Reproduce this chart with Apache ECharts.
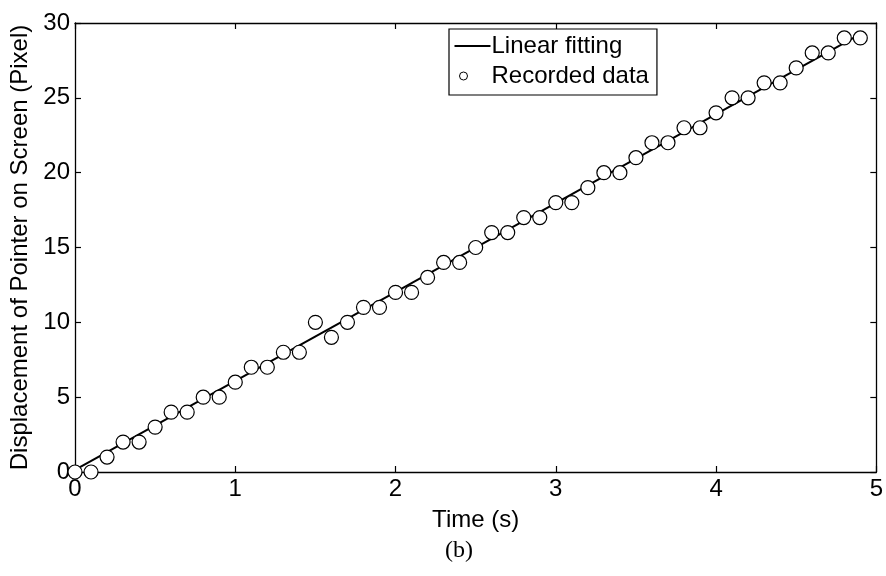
<!DOCTYPE html>
<html><head><meta charset="utf-8">
<script src="https://cdn.jsdelivr.net/npm/echarts@6/dist/echarts.min.js"></script>
<style>html,body{margin:0;padding:0;background:#fff}#c{width:886px;height:576px}</style>
</head><body><div id="c"></div>
<script>
const timeValues = [0,0.1,0.2,0.3,0.4,0.5,0.6,0.7,0.8,0.9,1.0,1.1,1.2,1.3,1.4,1.5,1.6,1.7,1.8,1.9,2.0,2.1,2.2,2.3,2.4,2.5,2.6,2.7,2.8,2.9,3.0,3.1,3.2,3.3,3.4,3.5,3.6,3.7,3.8,3.9,4.0,4.1,4.2,4.3,4.4,4.5,4.6,4.7,4.8,4.9];
const recordedData = [0,0,1,2,2,3,4,4,5,5,6,7,7,8,8,10,9,10,11,11,12,12,13,14,14,15,16,16,17,17,18,18,19,20,20,21,22,22,23,23,24,25,25,26,26,27,28,28,29,29];
const fitX = [0, 4.9];
const fitY = [0.15, 29.25];
const xTicks = [0,1,2,3,4,5];
const yTicks = [0,5,10,15,20,25,30];

const font = 'Liberation Sans, Arial, sans-serif';
const chart = echarts.init(document.getElementById('c'), null, {renderer:'canvas'});
const scatterData = timeValues.map((t,i)=>[t, recordedData[i]]);
const fitData = fitX.map((x,i)=>[x, fitY[i]]);
const lineSty = {color:'#000',width:1.3};
const tickSty = {show:true,inside:true,length:6,lineStyle:{color:'#000',width:1.2}};
const hiddenAxis = {show:true, axisLine:{show:true,onZero:false,lineStyle:lineSty}, axisTick:tickSty, axisLabel:{show:false}, splitLine:{show:false}};
chart.setOption({
  animation:false,
  backgroundColor:'#fff',
  grid:{left:75, right:9, top:23, bottom:104, containLabel:false},
  xAxis:[{
    type:'value', min:xTicks[0], max:xTicks[xTicks.length-1], interval:1,
    name:'Time (s)', nameLocation:'middle', nameGap:36,
    nameTextStyle:{fontFamily:font, fontSize:24, color:'#000'},
    axisLine:{show:true,onZero:false,lineStyle:lineSty},
    axisTick:tickSty,
    axisLabel:{fontFamily:font, fontSize:24, color:'#000', margin:5},
    splitLine:{show:false}
  },{
    type:'value', position:'top', min:xTicks[0], max:xTicks[xTicks.length-1], interval:1, ...hiddenAxis
  }],
  yAxis:[{
    type:'value', min:yTicks[0], max:yTicks[yTicks.length-1], interval:5,
    name:'Displacement of Pointer on Screen (Pixel)', nameLocation:'middle', nameGap:40,
    nameTextStyle:{fontFamily:font, fontSize:24, color:'#000'},
    axisLine:{show:true,onZero:false,lineStyle:lineSty},
    axisTick:tickSty,
    axisLabel:{fontFamily:font, fontSize:24, color:'#000', margin:5},
    splitLine:{show:false}
  },{
    type:'value', position:'right', min:yTicks[0], max:yTicks[yTicks.length-1], interval:5, ...hiddenAxis
  }],
  legend:{
    left:449, top:29, orient:'vertical',
    backgroundColor:'#fff', borderColor:'#000', borderWidth:1.2, borderRadius:0,
    padding:[5,8,7,5], itemGap:6, itemWidth:36, itemHeight:14,
    textStyle:{fontFamily:font, fontSize:24, color:'#000', padding:[0,0,0,-4]},
    data:[
      {name:'Linear fitting', icon:'path://M0,6 L36,6 L36,8 L0,8 Z M0,0 M36,14', itemStyle:{color:'#000'}},
      {name:'Recorded data', icon:'path://M0,0 M36,14 M5,7 A4,4 0 1,1 13,7 A4,4 0 1,1 5,7 Z', itemStyle:{color:'#fff', borderColor:'#000', borderWidth:1, opacity:1}}
    ]
  },
  title:{text:'(b)', left:440, top:534, textStyle:{fontFamily:'Liberation Serif, DejaVu Serif, serif', fontSize:24, fontWeight:'normal', color:'#000'}},
  series:[
    {name:'Linear fitting', type:'line', data:fitData, symbol:'none', lineStyle:{color:'#000', width:2}, itemStyle:{color:'#000'}, z:2},
    {name:'Recorded data', type:'scatter', data:scatterData, symbol:'circle', symbolSize:14,
     itemStyle:{color:'#fff', borderColor:'#000', borderWidth:1.2, opacity:1}, z:3},
    {name:'_top', type:'scatter', xAxisIndex:1, yAxisIndex:1, data:[], silent:true}
  ]
});
</script></body></html>
